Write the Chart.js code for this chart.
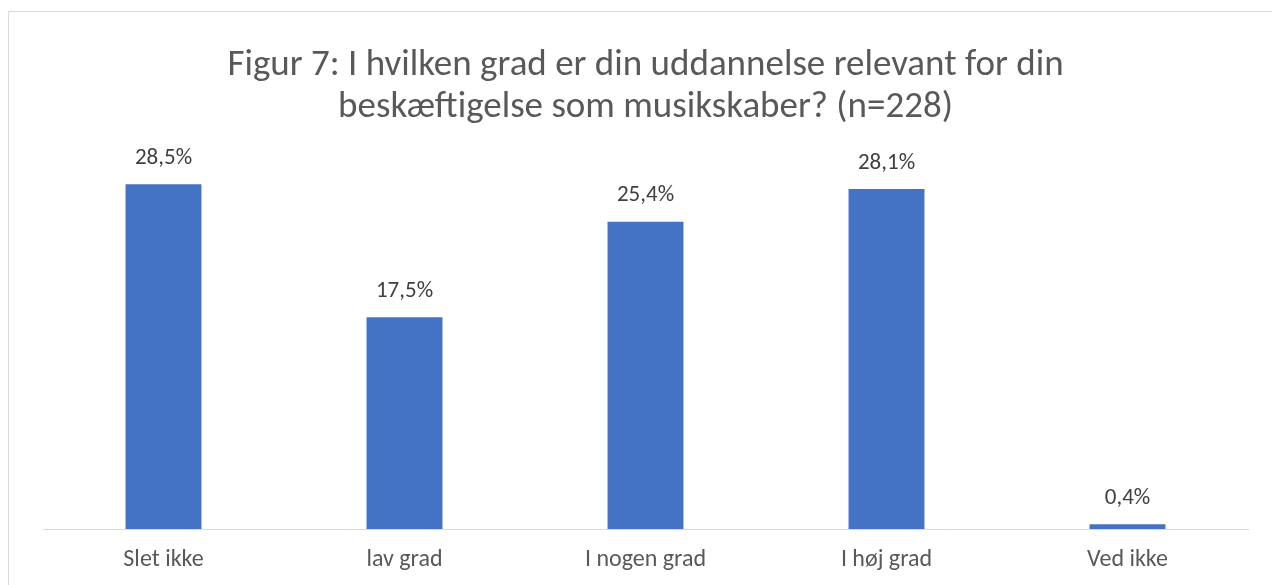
<!DOCTYPE html>
<html><head><meta charset="utf-8">
<script src="https://cdn.jsdelivr.net/npm/chart.js@4.4.0/dist/chart.umd.min.js"></script>
<style>
html,body{margin:0;padding:0;background:#fff;width:1272px;height:585px;overflow:hidden}
#frame{position:absolute;left:8px;top:11px;width:1300px;height:600px;border:1px solid #d9d9d9;box-sizing:border-box}
#wrap{position:absolute;left:0;top:0;width:1272px;height:585px}
</style></head><body>
<div id="frame"></div>
<div id="wrap"><canvas id="c" width="1272" height="585"></canvas></div>
<script>
const categories = ["Slet ikke", "lav grad", "I nogen grad", "I høj grad", "Ved ikke"];
const values = [28.5, 17.5, 25.4, 28.1, 0.4];
const titleLines = ["Figur 7: I hvilken grad er din uddannelse relevant for din", "beskæftigelse som musikskaber? (n=228)"];
const FONT = "Carlito, Calibri, 'Open Sans', sans-serif";

const labelPlugin = {
  id: 'barLabels',
  afterDatasetsDraw(chart) {
    const ctx = chart.ctx;
    const meta = chart.getDatasetMeta(0);
    ctx.save();
    ctx.font = "23px " + FONT;
    ctx.fillStyle = "#404040";
    ctx.textAlign = "center";
    ctx.textBaseline = "middle";
    meta.data.forEach((bar, i) => {
      ctx.fillText(values[i].toFixed(1).replace('.', ',') + '%', bar.x, bar.y - 26);
    });
    ctx.restore();
  }
};

new Chart(document.getElementById('c'), {
  type: 'bar',
  data: { labels: categories, datasets: [{ data: values, backgroundColor: '#4472C4', categoryPercentage: 1, barPercentage: 0.315 }] },
  options: {
    responsive: false, animation: false,
    layout: { padding: { left: 43, right: 24, top: 0, bottom: 0 } },
    plugins: {
      legend: { display: false }, tooltip: { enabled: false },
      title: { display: true, text: titleLines, color: '#595959', font: { family: FONT, size: 37, weight: 'normal', lineHeight: 1.135 }, padding: { top: 45, bottom: 37 } }
    },
    scales: {
      x: { grid: { display: false }, border: { color: '#d9d9d9', width: 1 }, ticks: { color: '#595959', font: { family: FONT, size: 24 }, padding: 9 },
           afterFit(scale) { scale.height = 56; } },
      y: { display: false, min: 0, max: 30 }
    }
  },
  plugins: [labelPlugin]
});
</script></body></html>
